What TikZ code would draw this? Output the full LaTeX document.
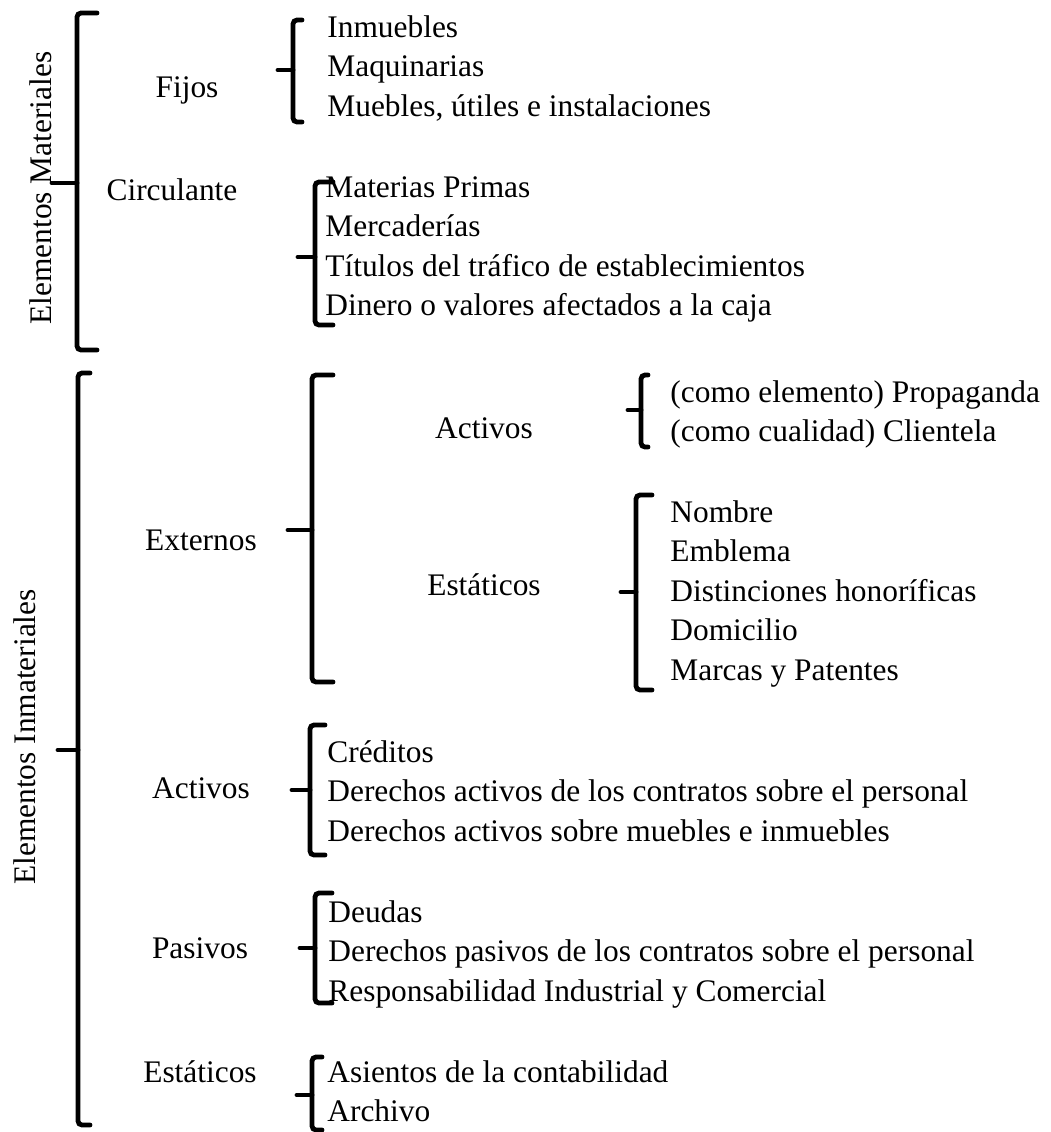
\documentclass[tikz,border=0pt]{standalone}
\usepackage{fontspec}
\setmainfont{Liberation Serif}
\usetikzlibrary{positioning}

\begin{document}
\begin{tikzpicture}[
    x=0.5pt, y=-0.5pt,
    font=\fontsize{15.7}{19}\selectfont,
    brk/.style={line width=2.4pt, rounded corners=2pt, line cap=round},
    lbl/.style={inner sep=0pt, anchor=base},
    vlbl/.style={inner sep=0pt, anchor=base, rotate=90},
    item/.style={inner sep=0pt, anchor=base west},
]

\def\gap{39.6}

\useasboundingbox (0,0) rectangle (1051,1132);

% brackets: x / top / bottom / tick / right tip / left tick
\foreach \x/\t/\b/\m/\r/\l in {
    77/13/350/183/97/52,      % materiales
    293/20/122/70/302/278,    % fijos
    315/182/325/257/333/298,  % circulante
    78/373/1125/750/90/58,    % inmateriales
    312/375/682/530/333/288,  % externos
    641/375/447/410/648/628,  % activos (externos)
    636/495/690/592/652/621,  % estaticos (externos)
    310/725/855/790/325/292,  % activos
    315/893/1003/948/332/300, % pasivos
    312/1057/1130/1095/322/297% estaticos
} {
    \draw[brk] (\r,\t) -- (\x,\t) -- (\x,\b) -- (\r,\b);
    \draw[brk, rounded corners=0pt] (\l,\m) -- (\x,\m);
}

% first level
\node[vlbl] (mat) at (52,188) {Elementos Materiales};
\node[vlbl] (inm) at (35,737) {Elementos Inmateriales};

% second level
\node[lbl] (fijos) at (187,97) {Fijos};
\node[lbl] (circ) at (172,200) {Circulante};
\node[lbl] (ext) at (201,550) {Externos};
\node[lbl] (actA) at (484,438) {Activos};
\node[lbl] (estA) at (484,595) {Estáticos};
\node[lbl] (actB) at (201,798) {Activos};
\node[lbl] (pas) at (200,958) {Pasivos};
\node[lbl] (estB) at (200,1082) {Estáticos};

% lists
\foreach \s [count=\i] in {Inmuebles, Maquinarias,
        {Muebles, útiles e instalaciones}} {
    \node[item] (fij\i) at (327,{37+\gap*(\i-1)}) {\s};
}
\foreach \s [count=\i] in {Materias Primas, Mercaderías,
        Títulos del tráfico de establecimientos,
        Dinero o valores afectados a la caja} {
    \node[item] (cir\i) at (325,{197+\gap*(\i-1)}) {\s};
}
\foreach \s [count=\i] in {(como elemento) Propaganda,
        (como cualidad) Clientela} {
    \node[item] (pro\i) at (670,{402+\gap*(\i-1)}) {\s};
}
\foreach \s [count=\i] in {Nombre, Emblema, Distinciones honoríficas,
        Domicilio, Marcas y Patentes} {
    \node[item] (nom\i) at (670,{522+\gap*(\i-1)}) {\s};
}
\foreach \s [count=\i] in {Créditos,
        Derechos activos de los contratos sobre el personal,
        Derechos activos sobre muebles e inmuebles} {
    \node[item] (cre\i) at (327,{762+\gap*(\i-1)}) {\s};
}
\foreach \s [count=\i] in {Deudas,
        Derechos pasivos de los contratos sobre el personal,
        Responsabilidad Industrial y Comercial} {
    \node[item] (deu\i) at (328,{922+\gap*(\i-1)}) {\s};
}
\foreach \s [count=\i] in {Asientos de la contabilidad, Archivo} {
    \node[item] (asi\i) at (327,{1082+\gap*(\i-1)}) {\s};
}

\end{tikzpicture}
\end{document}
